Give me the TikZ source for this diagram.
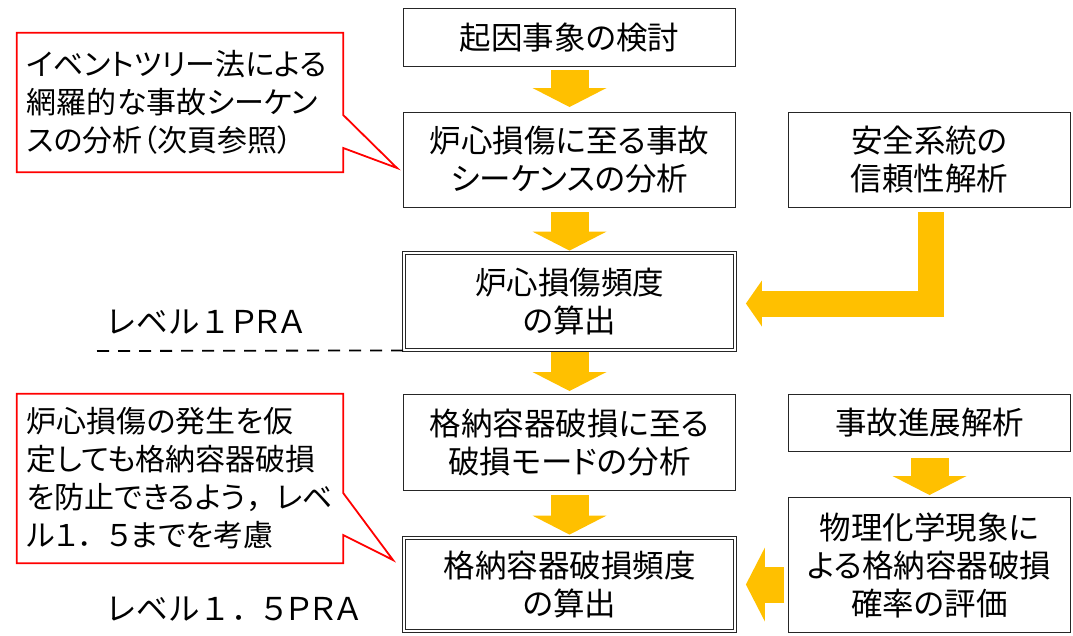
\documentclass[tikz,border=0pt]{standalone}
\usepackage{fontspec}
\setmainfont{Noto Sans CJK JP}[RawFeature=+palt]
\newfontfamily\fullwidthjp{Noto Sans CJK JP}
\usetikzlibrary{arrows.meta, positioning, calc}
\definecolor{flowgold}{HTML}{FFC000}

\begin{document}
\begin{tikzpicture}[x=1pt, y=-1pt]
    % --- Style Definitions ---
    \tikzset{
        % Ordinary step of the flow
        flow box/.style={
            draw=black!85,
            line width=1.4pt,
            fill=white,
            align=center,
            inner sep=0pt,
            font=\fontsize{31.5pt}{38pt}\selectfont
        },
        % Frequency results (double frame)
        result box/.style={
            flow box,
            double,
            double distance=1.8pt,
            line width=1.3pt
        },
        % Red remarks on the left
        note box/.style={
            align=left,
            inner xsep=10pt,
            inner ysep=0pt,
            font=\fontsize{30pt}{38pt}\selectfont
        },
        note line/.style={
            draw=red,
            line width=1.8pt,
            line join=miter
        },
        % Level names and the border between them
        level label/.style={
            anchor=base west,
            inner sep=0pt,
            font=\fontsize{31.5pt}{38pt}\selectfont
        },
        level rule/.style={
            dash pattern=on 12pt off 9pt,
            line width=1.8pt
        },
        % Fat yellow arrows
        block arrow/.style={
            draw=flowgold,
            line width=38pt,
            -{Triangle[length=19pt, width=74pt, line width=0pt]}
        },
        elbow arrow/.style={
            draw=flowgold,
            line width=26pt,
            -{Triangle[length=16pt, width=46pt, line width=0pt]}
        }
    }

    \useasboundingbox (0,0) rectangle (1073,635);

    % --- 1. Main column ---
    \node[flow box, minimum width=332pt, minimum height=57.6pt] (start) at (569.5,37.5) {起因事象の検討};
    \node[flow box, minimum width=332pt, minimum height=94.6pt] (seq) at (569.5,160) {炉心損傷に至る事故\\シーケンスの分析};
    \node[result box, minimum width=331.5pt, minimum height=96.5pt] (cdf) at (569.5,301.5) {炉心損傷頻度\\の算出};
    \node[flow box, minimum width=332pt, minimum height=95.6pt] (cfmode) at (569.5,442.5) {格納容器破損に至る\\破損モードの分析};
    \node[result box, minimum width=331.5pt, minimum height=92.5pt] (cff) at (569.5,584.5) {格納容器破損頻度\\の算出};

    % --- 2. Side column ---
    \node[flow box, minimum width=281.6pt, minimum height=94.6pt] (safety) at (929.5,160) {安全系統の\\信頼性解析};
    \node[flow box, minimum width=281.6pt, minimum height=56.6pt] (progress) at (929.5,423) {事故進展解析};
    \node[flow box, minimum width=281.6pt, minimum height=134.6pt] (phys) at (929.5,565) {物理化学現象に\\よる格納容器破損\\確率の評価};

    % --- 3. Arrows ---
    \draw[block arrow] ([yshift=-3pt]start.south) -- ([yshift=5pt]seq.north);
    \draw[block arrow] ([yshift=-4pt]seq.south) -- ([yshift=2pt]cdf.north);
    \draw[block arrow] ([yshift=-2pt]cdf.south) -- ([yshift=3pt]cfmode.north);
    \draw[block arrow] ([yshift=-4pt]cfmode.south) -- ([yshift=3pt]cff.north);
    \draw[block arrow] ([yshift=-6pt]progress.south) -- ([yshift=2pt]phys.north);
    \draw[elbow arrow] ([xshift=1.5pt, yshift=-4pt]safety.south) |- ([xshift=10pt, yshift=-2pt]cdf.east);
    \draw[block arrow, line width=36pt] ([xshift=-4pt]phys.west |- cff.east) -- ([xshift=10pt]cff.east);

    % --- 4. Levels ---
    \node[level label] (lvl1) at (105,333) {{\fullwidthjp レベル１}ＰＲＡ};
    \node[level label] (lvl15) at (105,620) {{\fullwidthjp レベル１．}５ＰＲＡ};
    \coordinate (lvl1 rule) at (97,351);
    \draw[level rule] (lvl1 rule) -- (cdf.south west);

    % --- 5. Remarks ---
    \node[note box, minimum width=326pt, minimum height=139pt, text width=306pt] (note1) at (180,102.5)
        {イベントツリー法による\\網羅的な事故シーケン\\スの分析（次頁参照）};
    \coordinate (note1 tip) at (397,168);
    \draw[note line] (note1.north west) -- (note1.north east) -- ([yshift=-12.5pt]note1.east)
        -- (note1 tip) -- ([yshift=-45.5pt]note1.east) -- (note1.south east) -- (note1.south west) -- cycle;

    \node[note box, minimum width=326pt, minimum height=169pt, text width=306pt] (note2) at (180,478.5)
        {炉心損傷の発生を仮\\定しても格納容器破損\\を防止できるよう{\fullwidthjp ，}レベ\\ル１{\fullwidthjp ．}５までを考慮};
    \coordinate (note2 tip) at (393,560);
    \draw[note line] (note2.north west) -- (note2.north east) -- ([yshift=-14.5pt]note2.east)
        -- (note2 tip) -- ([yshift=-56.5pt]note2.east) -- (note2.south east) -- (note2.south west) -- cycle;

\end{tikzpicture}
\end{document}
